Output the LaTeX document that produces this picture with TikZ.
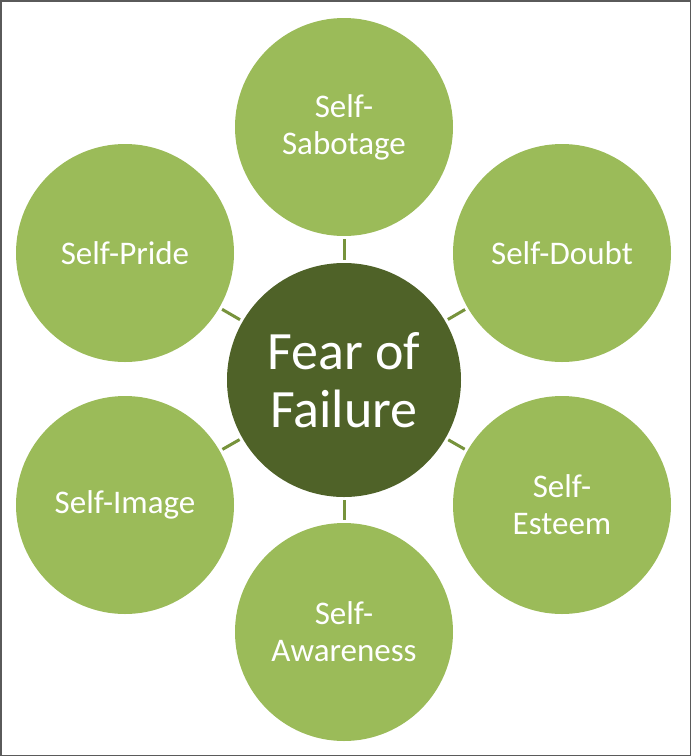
\documentclass[tikz,border=0pt]{standalone}
\usepackage{fontspec}
\setmainfont{Carlito}
\usetikzlibrary{positioning}

\definecolor{leafgreen}{HTML}{9BBB59}
\definecolor{rootgreen}{HTML}{4F6228}
\definecolor{linkgreen}{HTML}{77933C}
\definecolor{framegray}{HTML}{5A5A5A}

\tikzset{
  root/.style={circle, fill=rootgreen, minimum size=234pt, inner sep=0pt,
    text=white, align=center, font=\fontsize{54}{58}\selectfont},
  leaf/.style={circle, fill=leafgreen, minimum size=218pt, inner sep=0pt,
    text=white, align=center, font=\fontsize{33}{37}\selectfont},
  link/.style={draw=linkgreen, line width=3pt, shorten <=3pt, shorten >=3pt}
}

\begin{document}
\begin{tikzpicture}[x=1pt,y=-1pt]
% frame round the whole picture
\useasboundingbox (0,0) rectangle (691,756);
\draw[framegray, line width=1.5pt] (0.75,0.75) rectangle (690.25,755.25);

% the core circle in the middle
\node[root] (fear) at (344,380) {Fear of\\Failure};

% the six satellites, clockwise from the top
\node[leaf] (sabotage) at (344,127) {Self-\\Sabotage};
\node[leaf] (doubt) at (562,253) {Self-Doubt};
\node[leaf] (esteem) at (562,505) {Self-\\Esteem};
\node[leaf] (awareness) at (344,632) {Self-\\Awareness};
\node[leaf] (image) at (125,505) {Self-Image};
\node[leaf] (pride) at (125,253) {Self-Pride};

% short spokes between core and satellites
\draw[link] (fear) -- (sabotage);
\draw[link] (fear) -- (doubt);
\draw[link] (fear) -- (esteem);
\draw[link] (fear) -- (awareness);
\draw[link] (fear) -- (image);
\draw[link] (fear) -- (pride);
\end{tikzpicture}
\end{document}
